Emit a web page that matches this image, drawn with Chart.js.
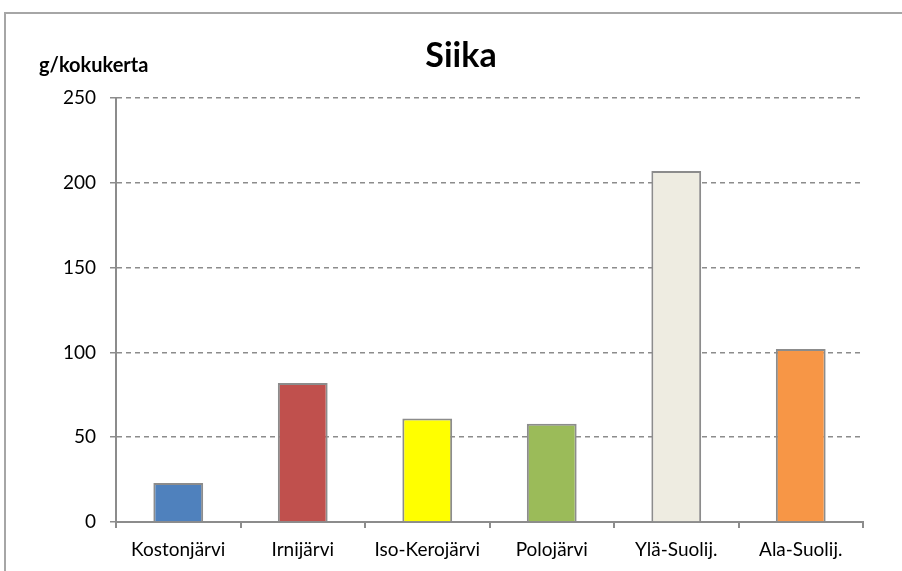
<!DOCTYPE html>
<html>
<head>
<meta charset="utf-8">
<script src="https://cdn.jsdelivr.net/npm/chart.js@4"></script>
<style>
  html, body { margin: 0; padding: 0; background: #fff; }
  #wrap { width: 902px; height: 571px; }
</style>
</head>
<body>
<div id="wrap"><canvas id="siikaChart" width="902" height="571"></canvas></div>
<script>
// ── Data ───────────────────────────────────────────────────
const lakes = ['Kostonjärvi', 'Irnijärvi', 'Iso-Kerojärvi', 'Polojärvi', 'Ylä-Suolij.', 'Ala-Suolij.'];
const grams = [23, 82, 61, 58, 207, 102];
const barColors = ['#4F81BD', '#C0504D', '#FFFF00', '#9BBB59', '#EEECE1', '#F79646'];

const FONT = "Lato, 'Open Sans', sans-serif";
const AXIS = '#8c8c8c';

// frame + titles drawn by hand, Excel style
const decor = {
  id: 'decor',
  afterDraw(chart) {
    const c = chart.ctx;
    c.save();
    c.strokeStyle = '#a6a6a6';
    c.lineWidth = 2;
    c.beginPath();
    c.moveTo(5, 571);
    c.lineTo(5, 13);
    c.lineTo(902, 13);
    c.stroke();

    c.fillStyle = '#000';
    c.textBaseline = 'alphabetic';
    c.textAlign = 'center';
    c.font = `bold 34px ${FONT}`;
    c.fillText('Siika', 461, 67);
    c.textAlign = 'left';
    c.font = `bold 20px ${FONT}`;
    c.fillText('g/kokukerta', 39, 72);
    c.restore();
  }
};

new Chart(document.getElementById('siikaChart'), {
  type: 'bar',
  data: {
    labels: lakes,
    datasets: [{
      data: grams,
      backgroundColor: barColors,
      borderColor: '#8c8c8c',
      borderWidth: 2,
      barPercentage: 0.4,
      categoryPercentage: 1,
    }]
  },
  options: {
    responsive: false,
    animation: false,
    layout: { padding: { top: 98, right: 39, left: 0, bottom: 0 } },
    plugins: {
      legend: { display: false },
      title: { display: false },
      tooltip: { enabled: false }
    },
    scales: {
      x: {
        offset: true,
        grid: { display: true, drawOnChartArea: false, offset: true, tickLength: 6, color: AXIS, lineWidth: 2 },
        border: { color: AXIS, width: 2 },
        ticks: { color: '#000', font: { family: FONT, size: 19 }, padding: 10 },
        afterFit: s => { s.height = 49; }
      },
      y: {
        min: 0, max: 250,
        ticks: { stepSize: 50, color: '#000', font: { family: FONT, size: 19 }, padding: 14 },
        grid: { color: AXIS, lineWidth: 1.5, tickLength: 6, tickColor: AXIS, tickBorderDash: [] },
        border: { color: AXIS, width: 2, dash: [5, 4] },
        afterFit: s => { s.width = 116; }
      }
    }
  },
  plugins: [decor]
});
</script>
</body>
</html>
